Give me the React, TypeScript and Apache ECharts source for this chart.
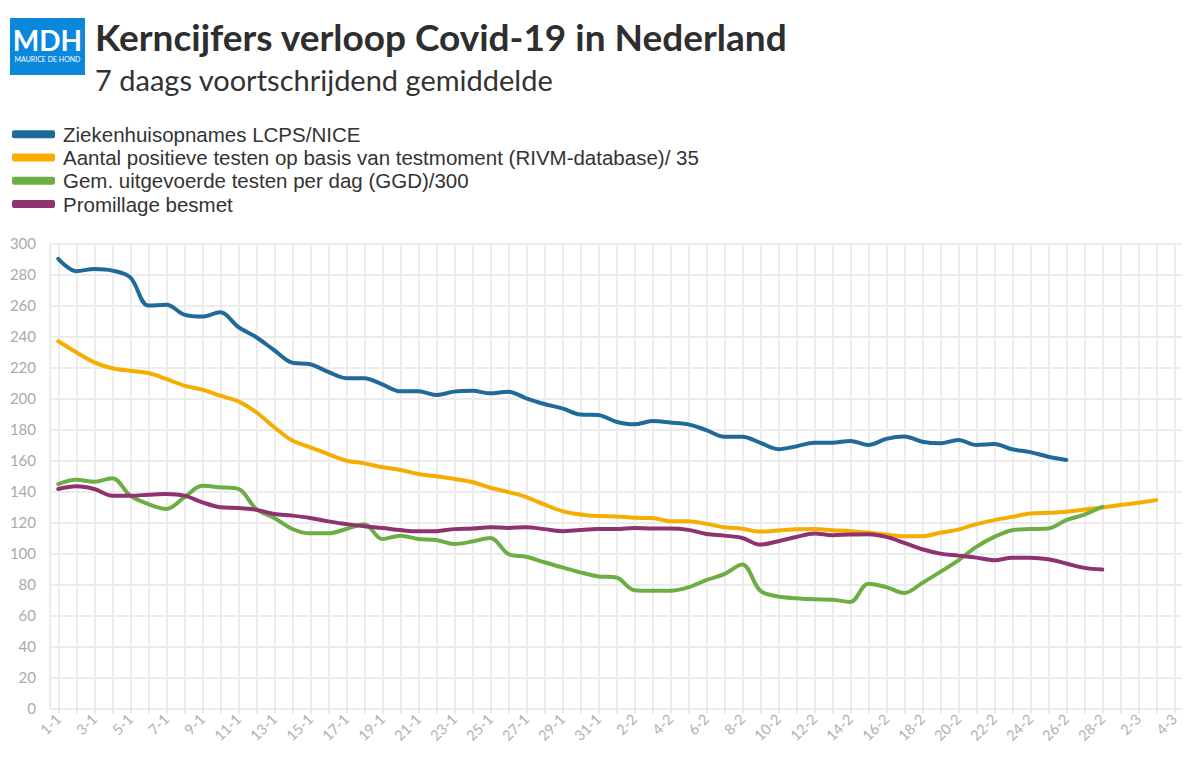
import React, { useEffect, useRef } from "react";
import * as echarts from "echarts";

const days: string[] = [
  "1-1","2-1","3-1","4-1","5-1","6-1","7-1","8-1","9-1","10-1","11-1","12-1","13-1","14-1","15-1","16-1",
  "17-1","18-1","19-1","20-1","21-1","22-1","23-1","24-1","25-1","26-1","27-1","28-1","29-1","30-1","31-1",
  "1-2","2-2","3-2","4-2","5-2","6-2","7-2","8-2","9-2","10-2","11-2","12-2","13-2","14-2","15-2","16-2",
  "17-2","18-2","19-2","20-2","21-2","22-2","23-2","24-2","25-2","26-2","27-2","28-2",
  "1-3","2-3","3-3","4-3",
];

const ziekenhuis: number[] = [
  290, 282, 283.4, 282.4, 278, 259.8, 260.4, 254, 252.7, 255.5, 246, 239.4, 231, 223, 222, 217, 213, 213, 209, 204.5, 204.5,
  202.2, 204.3, 204.8, 203.2, 204.3, 200, 196.3, 193.5, 189.6, 189.2, 184.9, 183.2, 185.3, 184.4, 183.2, 179.5, 175.2, 175.2,
  171.3, 167.2, 169, 171.4, 171.4, 172.5, 169.9, 173.8, 175.3, 172, 171, 173.1, 169.9, 170.5, 167.1, 165.3, 162.3, 160.2,
];

const positief: number[] = [
  236.8, 229.7, 223.2, 219.4, 217.8, 216.3, 212.5, 208.2, 205.6, 201.7, 198, 191, 181.3, 172.7, 168.4, 164, 159.8, 158,
  155.5, 153.8, 151.2, 149.7, 148, 146, 142.3, 139.5, 136.3, 131.5, 127.2, 125, 124, 123.8, 122.9, 122.7, 120.7, 120.7,
  119, 116.8, 115.8, 114, 114.7, 115.5, 115.6, 114.9, 114.3, 113.4, 112.1, 111, 111, 113.2, 115.3, 118.8, 121.4, 123.5,
  125.7, 126.1, 126.8, 128.3, 129.6, 131.1, 132.6, 134.3,
];

const testen: number[] = [
  144.7, 147.5, 146.2, 148.4, 137.2, 131.8, 128.6, 136.1, 143.6, 142.6, 141.5, 128.6, 122.8, 115.7, 112.9, 112.9, 115.7,
  118.8, 109.2, 111.4, 109.2, 108.6, 106, 107.6, 109.9, 99.6, 97.8, 94.2, 90.9, 87.7, 85.1, 84.4, 76.2, 75.8, 75.8, 78,
  82.7, 86.6, 92.7, 75.8, 72.1, 71, 70.3, 70.1, 68.6, 80.4, 78.2, 74.4, 80.9, 88, 95.5, 104.1, 110.6, 114.9, 115.6, 116,
  121.4, 125, 130,
];

const promillage: number[] = [
  141.5, 143.2, 141.5, 137.2, 137.2, 137.8, 138.3, 137.2, 132.9, 129.7, 129.2, 128, 125.4, 124.3, 122.8, 120.6, 118.9,
  117.4, 116.3, 115, 114.2, 114.3, 115.6, 116, 116.8, 116.4, 116.8, 115.6, 114.3, 115.1, 115.6, 115.6, 116.4, 116, 116,
  115.1, 112.5, 111.4, 109.9, 105.6, 107.8, 110.5, 112.8, 111.7, 112.1, 112.3, 110.6, 106.7, 102.6, 99.8, 98.5, 97.2,
  95.5, 97.2, 97.2, 96.2, 93.4, 90.6, 89.5,
];

const seriesNames: string[] = [
  "Ziekenhuisopnames LCPS/NICE",
  "Aantal positieve testen op basis van testmoment (RIVM-database)/ 35",
  "Gem. uitgevoerde testen per dag (GGD)/300",
  "Promillage besmet",
];
const seriesColors: string[] = ["#1f6a98", "#f5ad00", "#6cae44", "#8f3270"];

const FONT = "Lato, 'Noto Sans', sans-serif";
const LEGEND_FONT = "'Liberation Sans', Arial, sans-serif";

export default function App() {
  const ref = useRef<HTMLDivElement>(null);
  useEffect(() => {
    if (!ref.current) return;
    const chart = echarts.init(ref.current, null, { renderer: "svg" });
    const dataSets = [ziekenhuis, positief, testen, promillage];
    const top = 243.3;
    const bottom = 766 - 708.3;
    chart.setOption({
      animation: false,
      backgroundColor: "#ffffff",
      textStyle: { fontFamily: FONT },
      grid: [
        { left: 50, right: 17, top, bottom },
        { left: 58.3, right: 24.7, top, bottom },
      ],
      legend: {
        orient: "vertical",
        left: 7,
        top: 117.5,
        itemWidth: 43,
        itemHeight: 8,
        itemGap: 0,
        icon: "roundRect",
        textStyle: { fontSize: 20.5, color: "#333333", fontFamily: LEGEND_FONT, lineHeight: 23.3, padding: [0, 0, 0, 3] },
        data: seriesNames,
      },
      xAxis: [
        { type: "value", gridIndex: 0, min: 0, max: 1, show: false },
        {
          type: "category",
          gridIndex: 1,
          data: days,
          boundaryGap: false,
          axisLine: { show: false },
          axisTick: { show: true, interval: 0, length: 5, lineStyle: { color: "#e6e6e6", width: 2 } },
          axisLabel: { interval: 1, rotate: 45, color: "#b0b0b8", fontSize: 14.5, margin: 8, fontFamily: FONT },
          splitLine: { show: true, interval: 0, lineStyle: { color: "#ececec", width: 2 } },
        },
      ],
      yAxis: [
        {
          type: "value",
          gridIndex: 0,
          min: 0,
          max: 300,
          interval: 20,
          axisLine: { show: true, lineStyle: { color: "#ececec", width: 2 } },
          axisTick: { show: false },
          axisLabel: { color: "#aaaaaa", fontSize: 15, margin: 14, fontFamily: FONT },
          splitLine: { show: true, lineStyle: { color: "#ececec", width: 2 } },
        },
        { type: "value", gridIndex: 1, min: 0, max: 300, interval: 20, show: false },
      ],
      series: seriesNames.map((name, k) => ({
        name,
        type: "line",
        xAxisIndex: 1,
        yAxisIndex: 1,
        data: dataSets[k],
        smooth: 0.35,
        showSymbol: false,
        symbol: "none",
        color: seriesColors[k],
        lineStyle: { width: 4, color: seriesColors[k], cap: "round" },
        z: 3 + k,
      })),
      graphic: [
        { type: "rect", left: 10, top: 18, shape: { width: 75, height: 57 }, style: { fill: "#0b87db" } },
        {
          type: "text",
          x: 47.5,
          y: 40,
          style: { text: "MDH", fill: "#ffffff", font: "bold 28px " + FONT, align: "center", verticalAlign: "middle" },
        },
        {
          type: "text",
          x: 47.5,
          y: 59,
          style: { text: "MAURICE DE HOND", fill: "#ffffff", font: "7px " + FONT, align: "center", verticalAlign: "middle" },
        },
        {
          type: "text",
          x: 95,
          y: 36,
          style: {
            text: "Kerncijfers verloop Covid-19 in Nederland",
            fill: "#2e2e2e",
            font: "bold 37px " + FONT,
            verticalAlign: "middle",
          },
        },
        {
          type: "text",
          x: 95,
          y: 79,
          style: {
            text: "7 daags voortschrijdend gemiddelde",
            fill: "#333333",
            font: "29px " + FONT,
            verticalAlign: "middle",
          },
        },
      ],
    });
    return () => chart.dispose();
  }, []);
  return (
    <div
      ref={ref}
      style={{ position: "fixed", left: 0, top: 0, width: 1199, height: 766, background: "#fff" }}
    />
  );
}
